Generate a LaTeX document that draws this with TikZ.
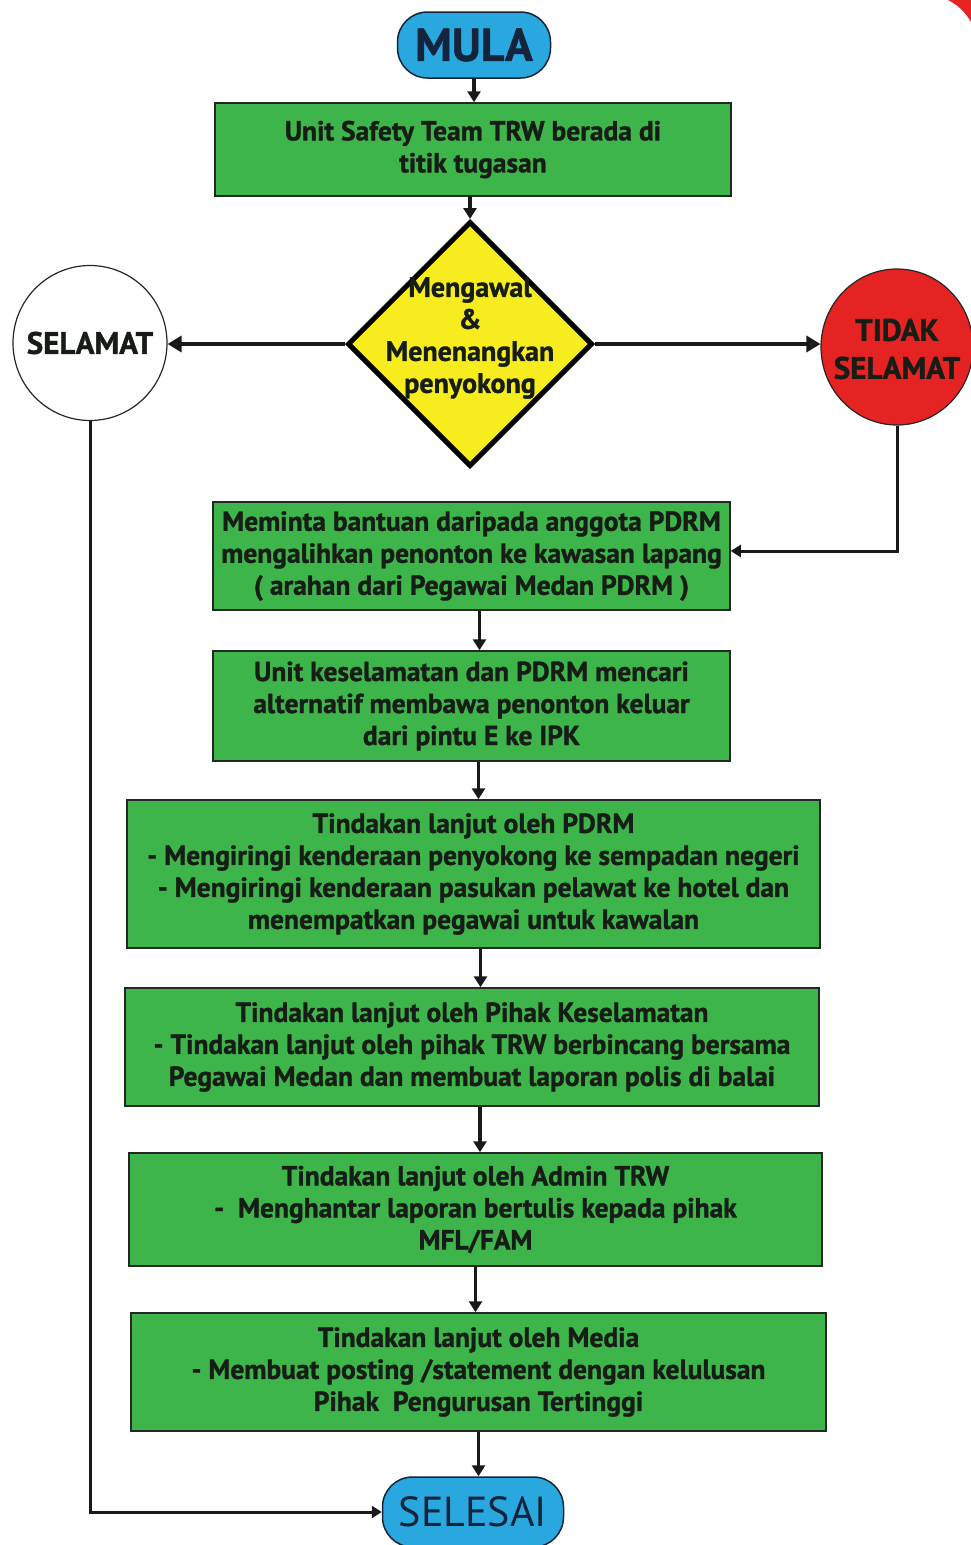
\documentclass[tikz,border=0pt]{standalone}
\usepackage{fontspec}
\setmainfont{PT Sans}[BoldFont={PT Sans Bold}, BoldFeatures={FakeBold=1.2}]
\usetikzlibrary{arrows.meta,shapes.geometric}
\definecolor{boxgreen}{RGB}{62,181,74}
\definecolor{bluefill}{RGB}{41,168,224}
\definecolor{yellowfill}{RGB}{246,236,30}
\definecolor{redfill}{RGB}{228,35,34}
\definecolor{txt}{RGB}{22,28,22}
\definecolor{navy}{RGB}{20,36,60}
\tikzset{
  gbox/.style={draw=black!85, line width=1.5pt, fill=boxgreen, align=center, text=txt,
    font=\bfseries\fontsize{27.5}{32}\selectfont, inner sep=0pt},
  pill/.style={draw=navy, line width=1.5pt, fill=bluefill, rounded corners=30pt, text=navy, inner sep=0pt},
  circ/.style={ellipse, draw=black!85, line width=1.2pt, inner sep=0pt},
  circtxt/.style={align=center, text=txt, inner sep=0pt, font=\bfseries\fontsize{31}{38}\selectfont},
  arr/.style={line width=3.5pt, black!90, -{Triangle[width=13pt,length=11pt]}},
  harr/.style={line width=4.5pt, black!90, -{Triangle[width=16pt,length=14pt,fill=navy]}},
  thinarr/.style={line width=3pt, black!90, -{Triangle[width=12pt,length=10pt]}}
}
\begin{document}
\begin{tikzpicture}[x=1pt,y=-1pt]
\useasboundingbox (0,0) rectangle (971,1545);
% corner decoration
\fill[redfill] (948,0) -- (971,0) -- (971,22) .. controls (965,12) and (958,5) .. (948,0) -- cycle;

\node[pill, minimum width=153pt, minimum height=66pt, font=\bfseries\fontsize{46}{46}\selectfont] (mula) at (474,45) {MULA};

\node[gbox, minimum width=516pt, minimum height=93pt] (b1) at (473,149.5) {Unit Safety Team TRW berada di\\titik tugasan};

\node[diamond, aspect=1, draw=black, line width=5pt, fill=yellowfill, minimum width=245pt, minimum height=245pt, inner sep=0pt] (dec) at (470,344) {};
\node[align=center, text=txt, font=\bfseries\fontsize{28}{32}\selectfont] (dtext) at (470,338) {Mengawal\\\&\\Menenangkan\\penyokong};

\node[circ, fill=white, minimum width=154pt, minimum height=155pt] (sel) at (90,343) {};
\node[circtxt] (seltxt) at (sel.center) {SELAMAT};
\node[circ, fill=redfill, minimum width=152pt, minimum height=156pt] (tdk) at (897,347) {};
\node[circtxt] (tdktxt) at ([yshift=-2pt]tdk.center) {TIDAK\\SELAMAT};

\node[gbox, minimum width=517pt, minimum height=108pt] (b2) at (471.5,556) {Meminta bantuan daripada anggota PDRM\\mengalihkan penonton ke kawasan lapang\\( arahan dari Pegawai Medan PDRM )};
\node[gbox, minimum width=517pt, minimum height=110pt] (b3) at (471.5,706) {Unit keselamatan dan PDRM mencari\\alternatif membawa penonton keluar\\dari pintu E ke IPK};
\node[gbox, minimum width=693pt, minimum height=148pt] (b4) at (473.5,874) {Tindakan lanjut oleh PDRM\\- Mengiringi kenderaan penyokong ke sempadan negeri\\- Mengiringi kenderaan pasukan pelawat ke hotel dan\\menempatkan pegawai untuk kawalan};
\node[gbox, minimum width=694pt, minimum height=118pt] (b5) at (472,1047) {Tindakan lanjut oleh Pihak Keselamatan\\- Tindakan lanjut oleh pihak TRW berbincang bersama\\Pegawai Medan dan membuat laporan polis di balai};
\node[gbox, minimum width=693pt, minimum height=113pt] (b6) at (475.5,1209.5) {Tindakan lanjut oleh Admin TRW\\-\ \ Menghantar laporan bertulis kepada pihak\\MFL/FAM};
\node[gbox, minimum width=695pt, minimum height=118pt] (b7) at (478.5,1372) {Tindakan lanjut oleh Media\\- Membuat posting /statement dengan kelulusan\\Pihak\ \ Pengurusan Tertinggi};

\node[pill, minimum width=181pt, minimum height=70pt, font=\fontsize{42}{42}\selectfont] (end) at (473,1512) {SELESAI};

% connectors
\draw[arr] (mula.south) -- (mula.south |- b1.north);
\draw[arr] (b1.south -| dec.north) -- (dec.north);
\draw[harr] (dec.west) -- (dec.west -| sel.east);
\draw[harr] (dec.east) -- (dec.east -| tdk.west);
\draw[thinarr] (tdk.south) |- ([yshift=5pt]b2.east);
\draw[arr] ([xshift=8pt]b2.south) -- ([xshift=8pt]b2.south |- b3.north);
\draw[arr] ([xshift=7pt]b3.south) -- ([xshift=7pt]b3.south |- b4.north);
\draw[arr] ([xshift=7pt]b4.south) -- ([xshift=7pt]b4.south |- b5.north);
\draw[arr] ([xshift=8pt]b5.south) -- ([xshift=8pt]b5.south |- b6.north);
\draw[arr] (b6.south) -- (b6.south |- b7.north);
\draw[arr] (b7.south) -- (b7.south |- end.north);
\draw[thinarr] (sel.south) |- (end.west);
\end{tikzpicture}
\end{document}
